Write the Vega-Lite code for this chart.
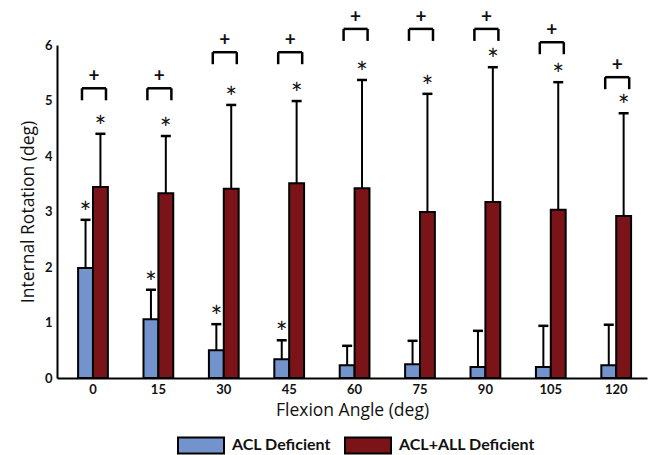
{
  "$schema": "https://vega.github.io/schema/vega-lite/v6.json",
  "autosize": "none",
  "width": 590,
  "height": 333,
  "padding": {"left": 57, "top": 45, "right": 9, "bottom": 77},
  "background": "white",
  "config": {
    "view": {"stroke": null},
    "font": "Lato",
    "axis": {"labelFont": "Lato", "titleFont": "Open Sans", "labelColor": "#111", "titleColor": "#111", "domainColor": "#000", "domainWidth": 2, "ticks": false, "grid": false, "labelFontSize": 13, "labelFontWeight": "bold", "titleFontSize": 17.5, "titleFontWeight": "normal"},
    "legend": {"labelFont": "Lato", "labelFontSize": 16, "labelFontWeight": "bold", "labelColor": "#111"}
  },
  "datasets": {
    "bars": [
      {"angle": 0, "group": "ACL Deficient", "mean": 1.98, "upper": 2.85, "sig": "*"},
      {"angle": 15, "group": "ACL Deficient", "mean": 1.06, "upper": 1.59, "sig": "*"},
      {"angle": 30, "group": "ACL Deficient", "mean": 0.5, "upper": 0.97, "sig": "*"},
      {"angle": 45, "group": "ACL Deficient", "mean": 0.34, "upper": 0.68, "sig": "*"},
      {"angle": 60, "group": "ACL Deficient", "mean": 0.23, "upper": 0.58, "sig": ""},
      {"angle": 75, "group": "ACL Deficient", "mean": 0.25, "upper": 0.67, "sig": ""},
      {"angle": 90, "group": "ACL Deficient", "mean": 0.2, "upper": 0.85, "sig": ""},
      {"angle": 105, "group": "ACL Deficient", "mean": 0.2, "upper": 0.94, "sig": ""},
      {"angle": 120, "group": "ACL Deficient", "mean": 0.23, "upper": 0.96, "sig": ""},
      {"angle": 0, "group": "ACL+ALL Deficient", "mean": 3.44, "upper": 4.4, "sig": "*"},
      {"angle": 15, "group": "ACL+ALL Deficient", "mean": 3.33, "upper": 4.36, "sig": "*"},
      {"angle": 30, "group": "ACL+ALL Deficient", "mean": 3.41, "upper": 4.92, "sig": "*"},
      {"angle": 45, "group": "ACL+ALL Deficient", "mean": 3.51, "upper": 4.99, "sig": "*"},
      {"angle": 60, "group": "ACL+ALL Deficient", "mean": 3.42, "upper": 5.37, "sig": "*"},
      {"angle": 75, "group": "ACL+ALL Deficient", "mean": 2.99, "upper": 5.12, "sig": "*"},
      {"angle": 90, "group": "ACL+ALL Deficient", "mean": 3.17, "upper": 5.6, "sig": "*"},
      {"angle": 105, "group": "ACL+ALL Deficient", "mean": 3.03, "upper": 5.33, "sig": "*"},
      {"angle": 120, "group": "ACL+ALL Deficient", "mean": 2.92, "upper": 4.77, "sig": "*"}
    ],
    "brackets": [
      {"angle": 0, "bracket": 5.22, "mark": "+"},
      {"angle": 15, "bracket": 5.22, "mark": "+"},
      {"angle": 30, "bracket": 5.87, "mark": "+"},
      {"angle": 45, "bracket": 5.87, "mark": "+"},
      {"angle": 60, "bracket": 6.29, "mark": "+"},
      {"angle": 75, "bracket": 6.29, "mark": "+"},
      {"angle": 90, "bracket": 6.29, "mark": "+"},
      {"angle": 105, "bracket": 6.05, "mark": "+"},
      {"angle": 120, "bracket": 5.42, "mark": "+"}
    ]
  },
  "encoding": {
    "x": {
      "field": "angle", "type": "ordinal",
      "scale": {"paddingInner": 0.545, "paddingOuter": 0.283, "align": 0.57},
      "axis": {"title": "Flexion Angle (deg)", "labelAngle": 0, "labelPadding": 5, "titlePadding": 5}
    },
    "y": {
      "type": "quantitative",
      "scale": {"domain": [0, 6], "nice": false},
      "axis": {"title": "Internal Rotation (deg)", "values": [0, 1, 2, 3, 4, 5, 6], "labelPadding": 5, "titlePadding": 7}
    }
  },
  "layer": [
    {
      "data": {"name": "bars"},
      "mark": {"type": "bar", "stroke": "#000", "strokeWidth": 2},
      "encoding": {
        "xOffset": {"field": "group", "type": "nominal", "scale": {"domain": ["ACL Deficient", "ACL+ALL Deficient"], "paddingInner": 0, "paddingOuter": 0}},
        "y": {"field": "mean", "type": "quantitative"},
        "color": {
          "field": "group", "type": "nominal",
          "scale": {"domain": ["ACL Deficient", "ACL+ALL Deficient"], "range": ["#7393cd", "#7b1418"]},
          "legend": {"title": null, "orient": "none", "direction": "horizontal", "legendX": 120, "legendY": 376, "symbolType": "M-1,-0.35H1V0.35H-1Z", "symbolSize": 2116, "symbolStrokeColor": "#000", "symbolStrokeWidth": 2, "symbolOpacity": 1, "labelOffset": 7, "columnPadding": 10}
        }
      }
    },
    {
      "data": {"name": "bars"},
      "mark": {"type": "rule", "color": "#000", "strokeWidth": 2},
      "encoding": {
        "xOffset": {"field": "group", "type": "nominal"},
        "y": {"field": "mean", "type": "quantitative"},
        "y2": {"field": "upper"}
      }
    },
    {
      "data": {"name": "bars"},
      "mark": {"type": "tick", "color": "#000", "size": 10, "thickness": 2.5, "opacity": 1},
      "encoding": {
        "xOffset": {"field": "group", "type": "nominal"},
        "y": {"field": "upper", "type": "quantitative"}
      }
    },
    {
      "data": {"name": "bars"},
      "mark": {"type": "text", "fontSize": 28, "font": "Lato", "color": "#111", "baseline": "alphabetic", "dy": 3},
      "encoding": {
        "xOffset": {"field": "group", "type": "nominal"},
        "y": {"field": "upper", "type": "quantitative"},
        "text": {"field": "sig"}
      }
    },
    {
      "data": {"name": "brackets"},
      "mark": {"type": "rule", "color": "#000", "strokeWidth": 2.5, "xOffset": -11, "x2Offset": 13},
      "encoding": {
        "x": {"field": "angle", "type": "ordinal", "bandPosition": 0.5},
        "x2": {"field": "angle", "bandPosition": 0.5},
        "y": {"field": "bracket", "type": "quantitative"}
      }
    },
    {
      "data": {"name": "brackets"},
      "mark": {"type": "rule", "color": "#000", "strokeWidth": 2.5, "xOffset": -11, "y2Offset": 12},
      "encoding": {
        "x": {"field": "angle", "type": "ordinal", "bandPosition": 0.5},
        "y": {"field": "bracket", "type": "quantitative"},
        "y2": {"field": "bracket"}
      }
    },
    {
      "data": {"name": "brackets"},
      "mark": {"type": "rule", "color": "#000", "strokeWidth": 2.5, "xOffset": 13, "y2Offset": 12},
      "encoding": {
        "x": {"field": "angle", "type": "ordinal", "bandPosition": 0.5},
        "y": {"field": "bracket", "type": "quantitative"},
        "y2": {"field": "bracket"}
      }
    },
    {
      "data": {"name": "brackets"},
      "mark": {"type": "text", "fontSize": 19, "font": "Lato", "fontWeight": "bold", "color": "#111", "baseline": "middle", "dy": -12, "dx": 1},
      "encoding": {
        "x": {"field": "angle", "type": "ordinal", "bandPosition": 0.5},
        "y": {"field": "bracket", "type": "quantitative"},
        "text": {"field": "mark"}
      }
    }
  ]
}
